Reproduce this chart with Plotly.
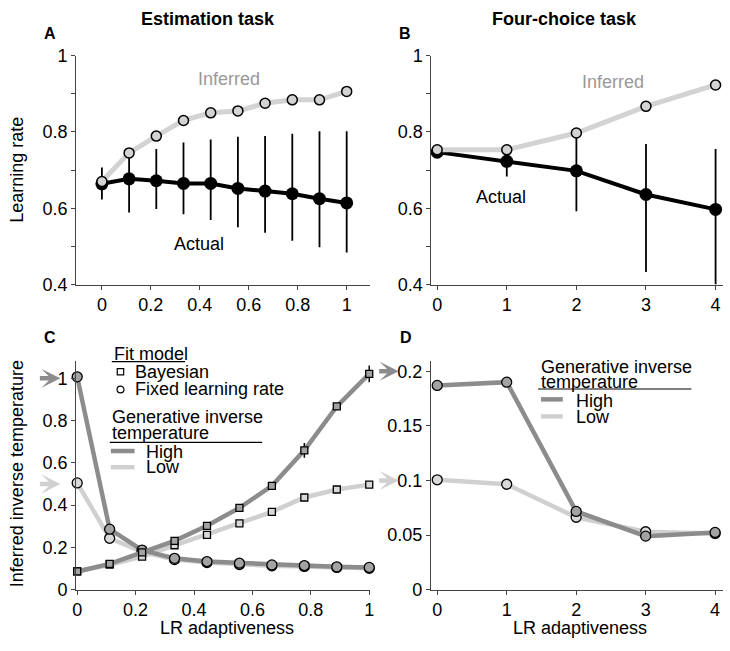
import plotly.graph_objects as go

W, H = 730, 651
FONT = "Arial, Liberation Sans, sans-serif"

# ---- data -------------------------------------------------------------
x_est = [0, 1/9, 2/9, 3/9, 4/9, 5/9, 6/9, 7/9, 8/9, 1]
x_4c = [0, 1, 2, 3, 4]

# A: estimation task learning rates
lr_est_inferred = [0.670, 0.745, 0.789, 0.830, 0.850, 0.855, 0.875, 0.884, 0.884, 0.906]
lr_est_actual = [0.664, 0.677, 0.672, 0.665, 0.665, 0.652, 0.645, 0.638, 0.625, 0.614]
lr_est_err_hi = [0.707, 0.755, 0.755, 0.772, 0.780, 0.787, 0.789, 0.795, 0.802, 0.802]
lr_est_err_lo = [0.623, 0.589, 0.598, 0.584, 0.569, 0.550, 0.536, 0.515, 0.498, 0.484]

# B: four-choice task learning rates
lr_4c_inferred = [0.753, 0.753, 0.797, 0.867, 0.923]
lr_4c_actual = [0.747, 0.723, 0.698, 0.636, 0.597]
lr_4c_err_hi = [0.747, 0.763, 0.800, 0.768, 0.755]
lr_4c_err_lo = [0.747, 0.683, 0.592, 0.433, 0.400]

# C: inferred inverse temperature, estimation task
beta_est_fixed_high = [1.007, 0.286, 0.187, 0.148, 0.133, 0.125, 0.117, 0.114, 0.108, 0.105]
beta_est_fixed_low = [0.505, 0.243, 0.179, 0.142, 0.128, 0.119, 0.113, 0.110, 0.105, 0.101]
beta_est_bayes_high = [0.086, 0.122, 0.176, 0.231, 0.302, 0.387, 0.491, 0.659, 0.867, 1.021]
beta_est_bayes_high_err = [0, 0, 0, 0, 0, 0, 0, 0.035, 0, 0.04]
beta_est_bayes_low = [0.086, 0.118, 0.156, 0.210, 0.259, 0.314, 0.368, 0.436, 0.474, 0.497]
true_beta_est = [1.0, 0.5]   # high, low

# D: inferred inverse temperature, four-choice task
beta_4c_high = [0.187, 0.190, 0.0716, 0.049, 0.0524]
beta_4c_low = [0.1006, 0.0965, 0.0663, 0.053, 0.0515]
true_beta_4c = [0.2, 0.1]    # high, low

HIGH = "#8c8c8c"
LOW = "#d0d0d0"
HIGH_FILL = "#a3a3a3"
LOW_FILL = "#d9d9d9"


def px(p):
    return p / W


def py(p):
    return 1 - p / H


fig = go.Figure()

# ── A ────────────────────────────────────────────────────────────────
fig.add_trace(go.Scatter(
    x=x_est, y=lr_est_actual, mode="lines+markers", xaxis="x", yaxis="y",
    line=dict(color="black", width=4),
    marker=dict(color="black", size=13),
    error_y=dict(type="data", symmetric=False,
                 array=[h - a for h, a in zip(lr_est_err_hi, lr_est_actual)],
                 arrayminus=[a - l for l, a in zip(lr_est_err_lo, lr_est_actual)],
                 color="black", thickness=1.8, width=0),
    cliponaxis=False, showlegend=False))
fig.add_trace(go.Scatter(
    x=x_est, y=lr_est_inferred, mode="lines+markers", xaxis="x", yaxis="y",
    line=dict(color="#d3d3d3", width=5),
    marker=dict(color="#d3d3d3", size=10, line=dict(color="black", width=1.5)),
    cliponaxis=False, showlegend=False))

# ── B ────────────────────────────────────────────────────────────────
fig.add_trace(go.Scatter(
    x=x_4c, y=lr_4c_actual, mode="lines+markers", xaxis="x2", yaxis="y2",
    line=dict(color="black", width=4),
    marker=dict(color="black", size=13),
    error_y=dict(type="data", symmetric=False,
                 array=[h - a for h, a in zip(lr_4c_err_hi, lr_4c_actual)],
                 arrayminus=[a - l for l, a in zip(lr_4c_err_lo, lr_4c_actual)],
                 color="black", thickness=1.8, width=0),
    cliponaxis=False, showlegend=False))
fig.add_trace(go.Scatter(
    x=x_4c, y=lr_4c_inferred, mode="lines+markers", xaxis="x2", yaxis="y2",
    line=dict(color="#d3d3d3", width=5),
    marker=dict(color="#d3d3d3", size=10, line=dict(color="black", width=1.5)),
    cliponaxis=False, showlegend=False))

# ── C ────────────────────────────────────────────────────────────────
for ys, col, fill, sym, err in [
    (beta_est_fixed_low, LOW, LOW_FILL, "circle", None),
    (beta_est_bayes_low, LOW, LOW_FILL, "square", None),
    (beta_est_fixed_high, HIGH, HIGH_FILL, "circle", None),
    (beta_est_bayes_high, HIGH, HIGH_FILL, "square", beta_est_bayes_high_err),
]:
    fig.add_trace(go.Scatter(
        x=x_est, y=ys, mode="lines+markers", xaxis="x3", yaxis="y3",
        line=dict(color=col, width=4.5),
        marker=dict(color=fill, size=10 if sym == "circle" else 7, symbol=sym,
                    line=dict(color="black", width=1.3)),
        error_y=(dict(type="data", array=err, color="black", thickness=1.5, width=0)
                 if err else None),
        cliponaxis=False, showlegend=False))

# ── D ────────────────────────────────────────────────────────────────
for ys, col, fill in [(beta_4c_low, LOW, LOW_FILL), (beta_4c_high, HIGH, HIGH_FILL)]:
    fig.add_trace(go.Scatter(
        x=x_4c, y=ys, mode="lines+markers", xaxis="x4", yaxis="y4",
        line=dict(color=col, width=4.5),
        marker=dict(color=fill, size=10, line=dict(color="black", width=1.3)),
        cliponaxis=False, showlegend=False))

# ── axes ─────────────────────────────────────────────────────────────
ax_common = dict(showline=True, linecolor="#444", linewidth=1, ticks="outside",
                 ticklen=4, tickcolor="#444", showgrid=False, zeroline=False,
                 tickfont=dict(family=FONT, size=18, color="black"))

lr_ticks = [0.4, 0.6, 0.8, 1]
lr_minor = dict(tickvals=[0.5, 0.7, 0.9], ticks="outside", ticklen=4, tickcolor="#444")
est_ticks = [0, 0.2, 0.4, 0.6, 0.8, 1]
beta_est_ticks = [0, 0.2, 0.4, 0.6, 0.8, 1]
beta_4c_ticks = [0, 0.05, 0.1, 0.15, 0.2]

fig.update_layout(
    xaxis=dict(ax_common, domain=[px(73), px(370)], range=[-0.105, 1.095], anchor="y",
               tickvals=est_ticks, ticktext=[f"{v:g}" for v in est_ticks]),
    yaxis=dict(ax_common, domain=[py(283.3), py(47)], range=[0.4, 1], anchor="x",
               tickvals=lr_ticks, ticktext=[f"{v:g}" for v in lr_ticks], minor=lr_minor),
    xaxis2=dict(ax_common, domain=[px(432), px(727)], range=[-0.085, 4.107], anchor="y2",
                tickvals=x_4c),
    yaxis2=dict(ax_common, domain=[py(283.3), py(47)], range=[0.4, 1], anchor="x2",
                tickvals=lr_ticks, ticktext=[f"{v:g}" for v in lr_ticks], minor=lr_minor),
    xaxis3=dict(ax_common, domain=[px(73), px(370)], range=[-0.0034, 1.0024], anchor="y3",
                tickvals=est_ticks, ticktext=[f"{v:g}" for v in est_ticks]),
    yaxis3=dict(ax_common, domain=[py(598), py(361.7)], range=[0, 1.084], anchor="x3",
                tickvals=beta_est_ticks, ticktext=[f"{v:g}" for v in beta_est_ticks]),
    xaxis4=dict(ax_common, domain=[px(431.7), px(727)], range=[-0.09, 4.114], anchor="y4",
                tickvals=x_4c),
    yaxis4=dict(ax_common, domain=[py(598), py(362)], range=[0, 0.2095], anchor="x4",
                tickvals=beta_4c_ticks, ticktext=[f"{v:g}" for v in beta_4c_ticks]),
    width=W, height=H, autosize=False,
    margin=dict(l=0, r=0, t=0, b=0),
    plot_bgcolor="white", paper_bgcolor="white",
    font=dict(family=FONT, size=18, color="black"),
)

# ── text ─────────────────────────────────────────────────────────────
ann = []


def txt(x, y, s, **kw):
    d = dict(x=px(x), y=py(y), xref="paper", yref="paper", text=s, showarrow=False,
             xanchor=kw.pop("xanchor", "left"), yanchor="middle",
             font=dict(family=FONT, size=kw.pop("size", 18), color=kw.pop("color", "black")))
    d.update(kw)
    ann.append(d)


txt(206, 9.5, "<b>Estimation task</b>", xanchor="center")
txt(567, 9.5, "<b>Four-choice task</b>", xanchor="center")
txt(47, 24, "<b>A</b>", xanchor="center", size=16)
txt(405, 24, "<b>B</b>", xanchor="center", size=16)
txt(47, 338, "<b>C</b>", xanchor="center", size=16)
txt(406, 338, "<b>D</b>", xanchor="center", size=16)
txt(13, 165, "Learning rate", xanchor="center", textangle=-90)
txt(13, 478, "Inferred inverse temperature", xanchor="center", textangle=-90)
txt(225, 638, "LR adaptiveness", xanchor="center")
txt(582, 638, "LR adaptiveness", xanchor="center")

# series labels in data coordinates
ann += [
    dict(x=0.518, y=0.939, xref="x", yref="y", text="Inferred", showarrow=False,
         font=dict(family=FONT, size=18, color="#999999")),
    dict(x=0.397, y=0.507, xref="x", yref="y", text="Actual", showarrow=False,
         font=dict(family=FONT, size=18, color="black")),
    dict(x=2.52, y=0.931, xref="x2", yref="y2", text="Inferred", showarrow=False,
         font=dict(family=FONT, size=18, color="#999999")),
    dict(x=0.91, y=0.629, xref="x2", yref="y2", text="Actual", showarrow=False,
         font=dict(family=FONT, size=18, color="black")),
]

# legend C
txt(109, 355, "Fit model")
txt(130, 373, "Bayesian")
txt(130, 391, "Fixed learning rate")
txt(107, 420, "Generative inverse")
txt(107, 436.7, "temperature")
txt(142, 456, "High")
txt(142, 472, "Low")
# legend D
txt(540.7, 368.3, "Generative inverse")
txt(540.7, 383.3, "temperature")
txt(576.7, 403, "High")
txt(576.7, 420, "Low")

# true generative value arrows
for (yv, col) in zip(true_beta_est, [HIGH, LOW]):
    ann.append(dict(x=px(57), y=yv, xref="paper", yref="y3", ax=-22, ay=0, text="",
                    showarrow=True, arrowhead=3, arrowsize=0.7, arrowwidth=4.5,
                    arrowcolor=col, standoff=0))
for (yv, col) in zip(true_beta_4c, [HIGH, LOW]):
    ann.append(dict(x=px(399), y=yv, xref="paper", yref="y4", ax=-21, ay=0, text="",
                    showarrow=True, arrowhead=3, arrowsize=0.7, arrowwidth=4.5,
                    arrowcolor=col, standoff=0))

fig.update_layout(annotations=ann)

# ── legend decorations ───────────────────────────────────────────────
shapes = []


def hline(x0, x1, y, color="black", width=1.2):
    shapes.append(dict(type="line", xref="paper", yref="paper", x0=px(x0), x1=px(x1),
                       y0=py(y), y1=py(y), line=dict(color=color, width=width)))


hline(109, 183, 362.7)
hline(107, 261, 446)
hline(540, 695, 391)
hline(108, 132, 455, HIGH, 4.5)
hline(108, 132, 471.7, LOW, 4.5)
hline(543, 565, 401.7, HIGH, 4.5)
hline(543, 565, 419.3, LOW, 4.5)
shapes.append(dict(type="rect", xref="paper", yref="paper", x0=px(114.5), x1=px(121),
                   y0=py(376.5), y1=py(370), line=dict(color="black", width=1.2),
                   fillcolor="white"))
shapes.append(dict(type="circle", xref="paper", yref="paper", x0=px(114.3), x1=px(121.3),
                   y0=py(395), y1=py(388), line=dict(color="black", width=1.2),
                   fillcolor="white"))
fig.update_layout(shapes=shapes)

fig.write_html(
    "out.html",
    config={"responsive": False, "displayModeBar": False},
    post_script=(
        "var gd=document.getElementById('{plot_id}');"
        "gd.style.position='fixed';gd.style.top='0px';gd.style.left='0px';"
        "document.body.style.margin='0';"
        "document.documentElement.style.overflow='hidden';"
    ),
)
